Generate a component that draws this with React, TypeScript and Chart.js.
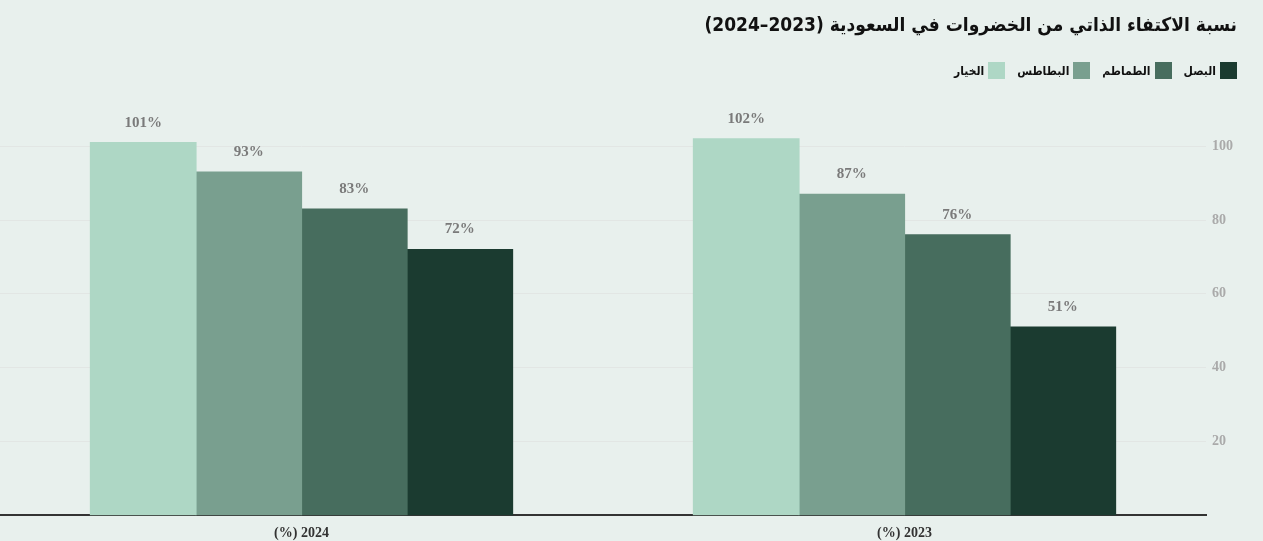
import React, { useEffect, useRef } from "react";
import { Chart, registerables } from "chart.js";

Chart.register(...registerables);

const TITLE = "نسبة الاكتفاء الذاتي من الخضروات في السعودية (2023–2024)";
const categories = ["2024 (%)", "2023 (%)"];
const seriesNames = ["الخيار", "البطاطس", "الطماطم", "البصل"];
const cucumber = [101, 102];
const potato = [93, 87];
const tomato = [83, 76];
const onion = [72, 51];
const seriesColors = ["#aed7c5", "#799f8f", "#476d5e", "#1b3b30"];
const yTicks = [20, 40, 60, 80, 100];

const BG = "#e8f0ed";
const SERIF = "'Liberation Serif', 'DejaVu Serif', serif";
const ARABIC = "'DejaVu Sans Condensed', 'DejaVu Sans', sans-serif";

const valueLabels = {
  id: "valueLabels",
  afterDatasetsDraw(chart: any) {
    const ctx = chart.ctx;
    ctx.save();
    ctx.font = `bold 15px ${SERIF}`;
    ctx.fillStyle = "#7a7a7a";
    ctx.textAlign = "center";
    ctx.textBaseline = "middle";
    chart.data.datasets.forEach((ds: any, i: number) => {
      const meta = chart.getDatasetMeta(i);
      meta.data.forEach((bar: any, j: number) => {
        ctx.fillText(`${ds.data[j]}%`, bar.x, bar.y - 20);
      });
    });
    ctx.restore();
  },
};

export default function App() {
  const ref = useRef<HTMLCanvasElement>(null);
  useEffect(() => {
    const values = [cucumber, potato, tomato, onion];
    const chart = new Chart(ref.current!, {
      type: "bar",
      data: {
        labels: categories,
        datasets: seriesNames.map((name, i) => ({
          label: name,
          data: values[i],
          backgroundColor: seriesColors[i],
          borderWidth: 0,
          inflateAmount: 0.6,
          categoryPercentage: 0.7,
          barPercentage: 1.0,
        })),
      },
      options: {
        animation: false,
        responsive: false,
        maintainAspectRatio: false,
        layout: { padding: { top: 91, right: 24, bottom: -11, left: 0 } },
        plugins: {
          legend: { display: false },
          title: { display: false },
          tooltip: { enabled: false },
        },
        scales: {
          x: {
            grid: { display: false, drawTicks: false },
            border: { display: true, color: "#333333", width: 2 },
            ticks: {
              color: "#333333",
              font: { family: SERIF, size: 14, weight: "bold" },
              padding: 10,
            },
          },
          y: {
            position: "right",
            min: 0,
            max: 115,
            afterBuildTicks(axis: any) {
              axis.ticks = yTicks.map((v) => ({ value: v }));
            },
            grid: { color: "#e2e6e4", drawTicks: false, lineWidth: 1 },
            border: { display: false },
            ticks: {
              color: "#aaaaaa",
              font: { family: SERIF, size: 14, weight: "bold" },
              padding: 6,
            },
          },
        },
      },
      plugins: [valueLabels],
    });
    return () => chart.destroy();
  }, []);

  return (
    <div
      style={{
        position: "fixed",
        left: 0,
        top: 0,
        width: 1263,
        height: 541,
        background: BG,
        overflow: "hidden",
      }}
    >
      <canvas
        ref={ref}
        dir="rtl"
        width={1263}
        height={541}
        style={{ position: "absolute", left: 0, top: 0, width: 1263, height: 541 }}
      />
      <div
        dir="rtl"
        style={{
          position: "absolute",
          right: 26,
          top: 13,
          fontFamily: ARABIC,
          fontWeight: "bold",
          fontSize: 19,
          color: "#111",
          whiteSpace: "nowrap",
        }}
      >
        {TITLE}
      </div>
      <div
        dir="rtl"
        style={{
          position: "absolute",
          right: 26,
          top: 62,
          display: "flex",
          gap: 12,
          fontFamily: ARABIC,
          fontWeight: "bold",
          fontSize: 12,
          color: "#111",
        }}
      >
        {[3, 2, 1, 0].map((i) => (
          <div key={i} style={{ display: "flex", alignItems: "center", gap: 4 }}>
            <span
              style={{
                display: "inline-block",
                width: 17,
                height: 17,
                background: seriesColors[i],
              }}
            />
            <span>{seriesNames[i]}</span>
          </div>
        ))}
      </div>
    </div>
  );
}
